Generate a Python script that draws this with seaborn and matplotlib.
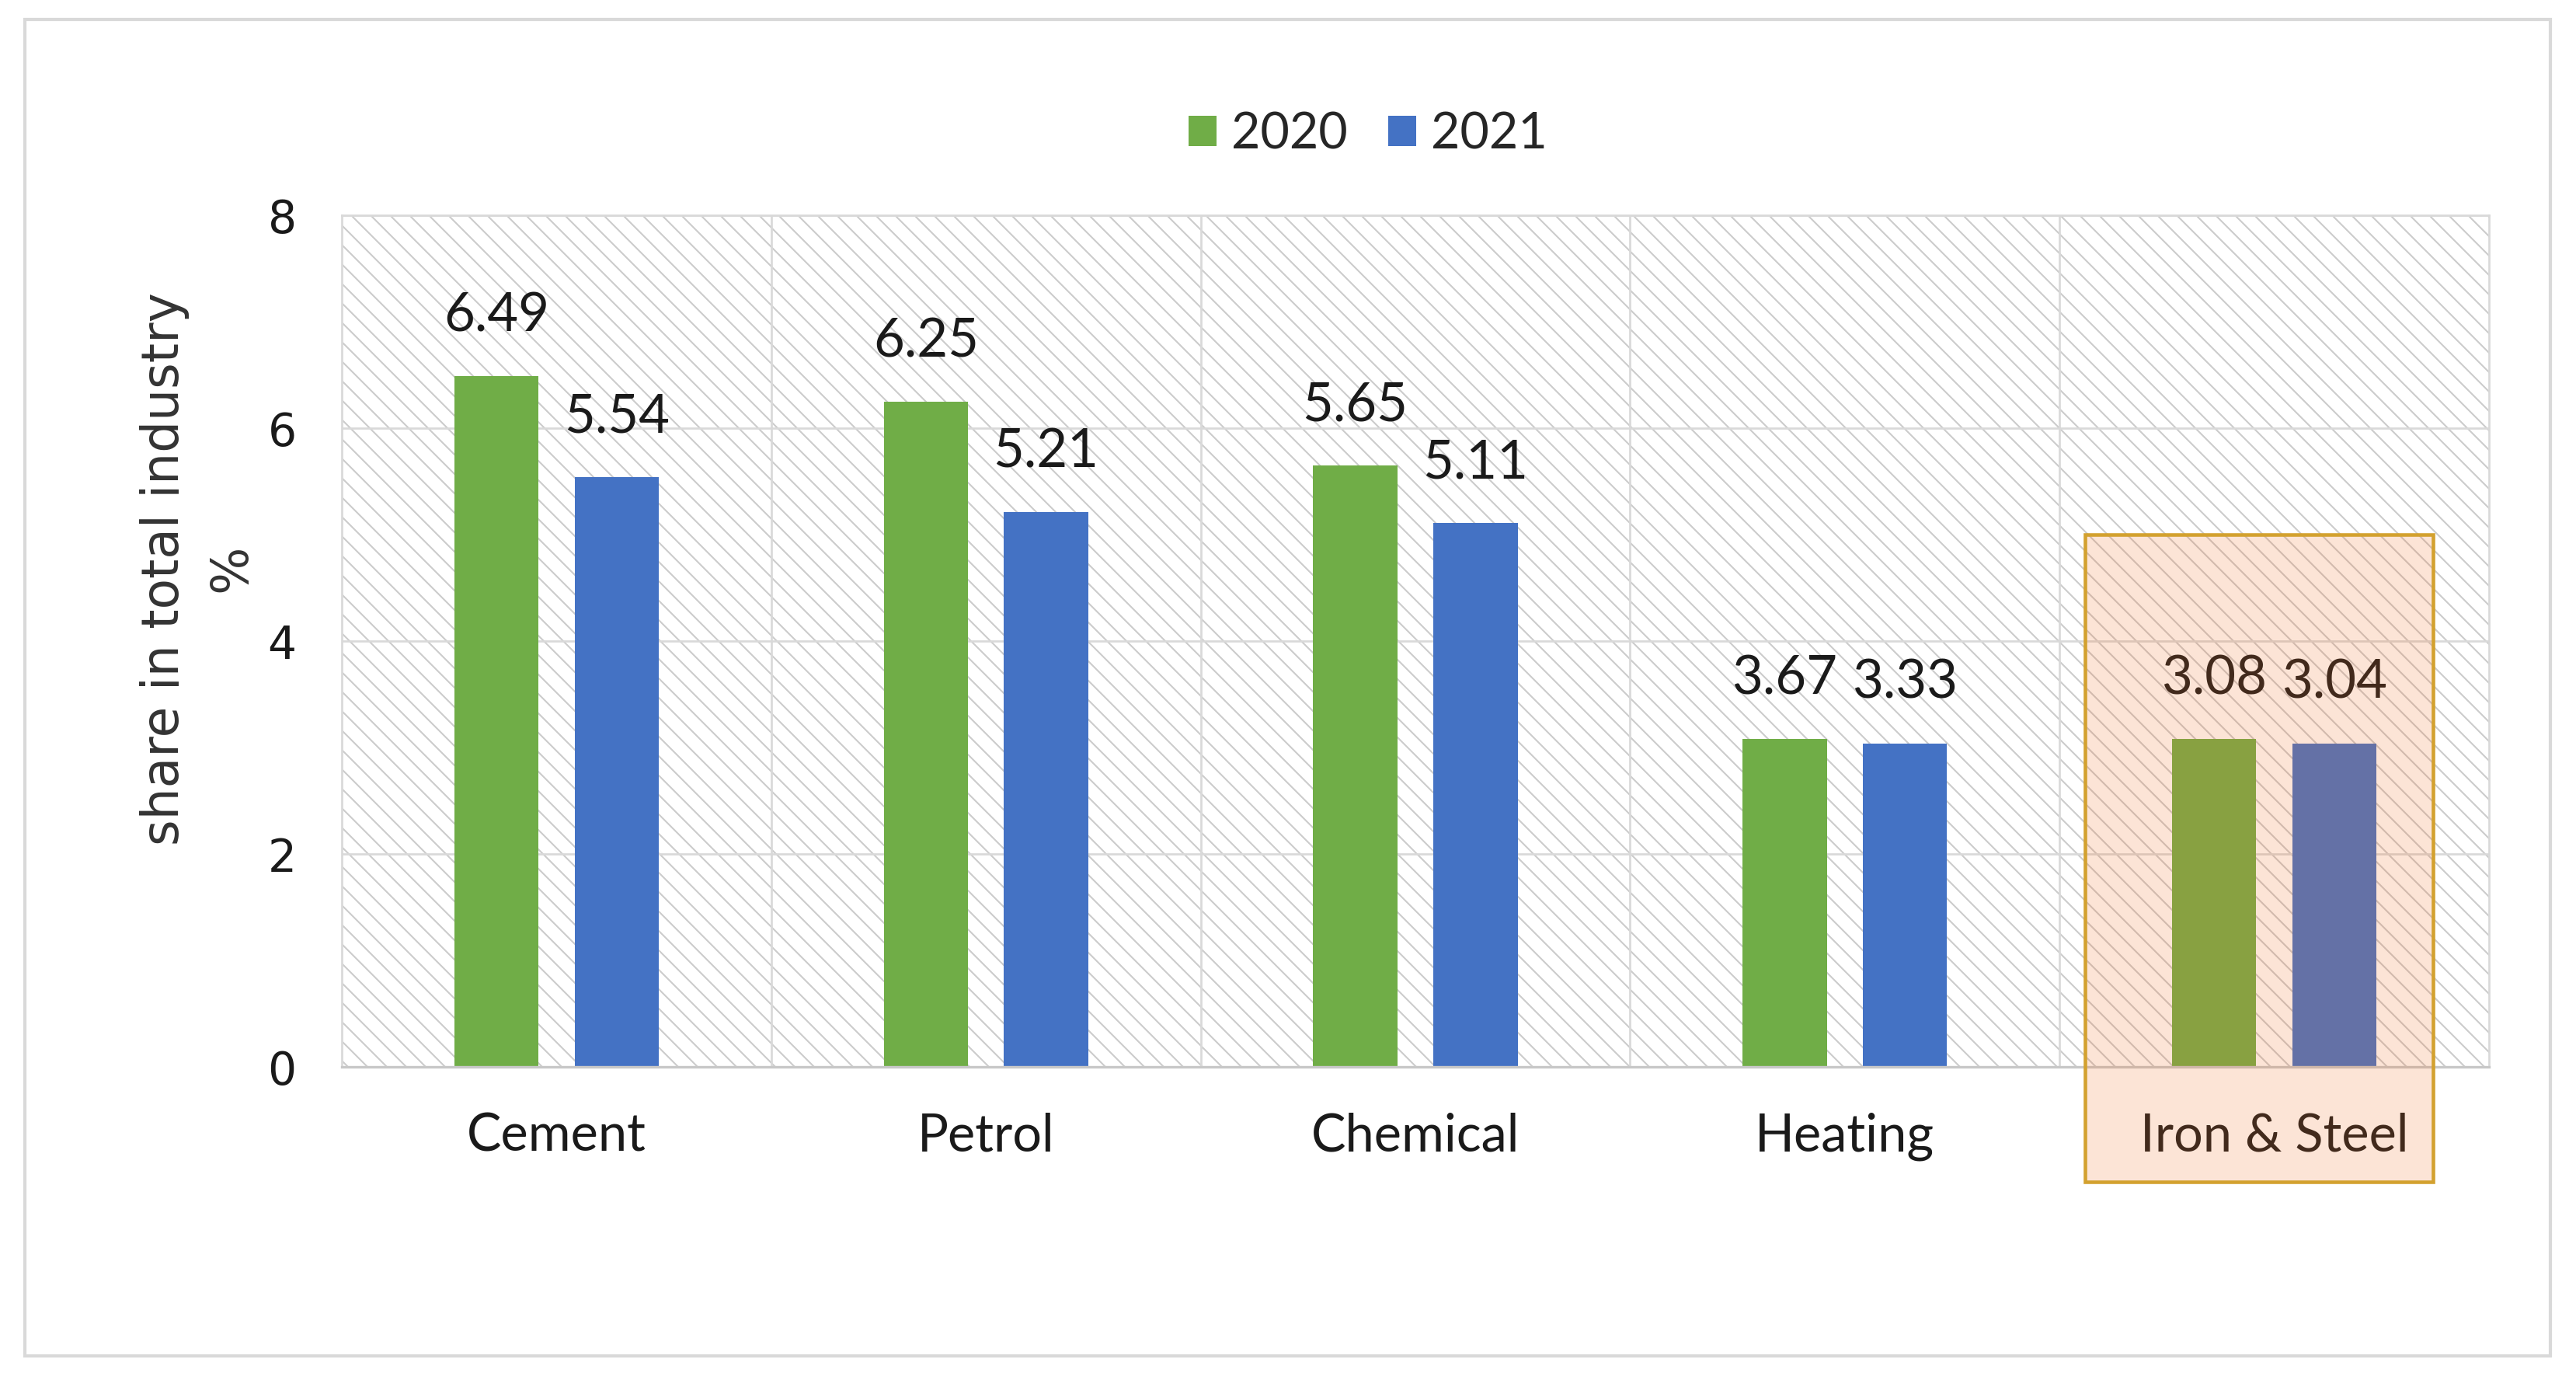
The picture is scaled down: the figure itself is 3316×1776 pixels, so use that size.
#%% packages
import pandas as pd
import seaborn as sns
import matplotlib.pyplot as plt
from matplotlib.patches import Rectangle

#%% data
sectors = ["Cement", "Petrol", "Chemical", "Heating", "Iron & Steel"]
years = ["2020", "2021"]
# bar heights as drawn in the figure
share_2020 = [6.49, 6.25, 5.65, 3.08, 3.08]
share_2021 = [5.54, 5.21, 5.11, 3.04, 3.04]
# data labels as printed
labels_2020 = ["6.49", "6.25", "5.65", "3.67", "3.08"]
labels_2021 = ["5.54", "5.21", "5.11", "3.33", "3.04"]
yticks = [0, 2, 4, 6, 8]
highlight = "Iron & Steel"

df = pd.DataFrame({
    "sector": sectors * 2,
    "year": [years[0]] * len(sectors) + [years[1]] * len(sectors),
    "share": share_2020 + share_2021,
})

#%% style
sns.set_theme(style="white")
plt.rcParams["font.family"] = ["Lato", "DejaVu Sans"]
plt.rcParams["hatch.linewidth"] = 1.0
grid_col = "#d9d9d9"

fig = plt.figure(figsize=(3316 / 150, 1776 / 150), dpi=150)
ax = fig.add_axes([0.1327, 0.2269, 0.8335, 0.6171])

# hatched plot area
ax.add_patch(Rectangle((0, 0), 1, 1, transform=ax.transAxes, facecolor="white",
                       edgecolor="#cccccc", hatch="\\\\", lw=0, zorder=0))

#%% bars
sns.barplot(data=df, x="sector", y="share", hue="year", order=sectors,
            palette=["#70AD47", "#4472C4"], saturation=1, width=0.56, gap=0.3,
            linewidth=0, ax=ax, zorder=2)

for cont, labs in zip(ax.containers, [labels_2020, labels_2021]):
    for bar, lab in zip(cont, labs):
        ax.annotate(lab, (bar.get_x() + bar.get_width() / 2, bar.get_height()),
                    xytext=(0, 37), textcoords="offset points",
                    ha="center", va="center", fontsize=33, color="#1a1a1a", zorder=3)

#%% axes
ax.set_xlim(-0.5, len(sectors) - 0.5)
ax.set_ylim(0, 8)
ax.set_yticks(yticks)
ax.set_xticks([i + 0.5 for i in range(len(sectors) - 1)], minor=True)
ax.grid(True, axis="y", color=grid_col, lw=1.3)
ax.grid(True, axis="x", which="minor", color=grid_col, lw=1.3)
ax.set_axisbelow(True)
for s in ["left", "right", "top"]:
    ax.spines[s].set_color(grid_col)
    ax.spines[s].set_linewidth(1.3)
ax.spines["bottom"].set_color("#c8c8c8")
ax.spines["bottom"].set_linewidth(1.6)
ax.tick_params(axis="both", which="both", length=0)
ax.tick_params(axis="x", pad=28, labelsize=32, labelcolor="#1a1a1a")
ax.tick_params(axis="y", pad=28, labelsize=28, labelcolor="#1a1a1a")
for t in ax.get_yticklabels():
    t.set_family("DejaVu Sans")
ax.set_xlabel("")
ax.set_ylabel("")

fig.text(0.077, 0.588, "share in total industry\n%", rotation=90, ha="center", va="center",
         multialignment="center", fontsize=31, linespacing=1.45, color="#333333",
         family="DejaVu Sans")

#%% legend
handles, lbls = ax.get_legend_handles_labels()
ax.get_legend().remove()
fig.legend(handles, lbls, loc="center", bbox_to_anchor=(0.531, 0.9025), ncol=2,
           frameon=False, fontsize=31, handlelength=0.56, handleheight=0.56,
           handletextpad=0.3, columnspacing=0.8)

#%% highlight box
i = sectors.index(highlight)
ax.add_patch(Rectangle((i - 0.44, -1.08), 0.81, 6.08, clip_on=False,
                       facecolor=(240 / 255, 113 / 255, 40 / 255, 0.19),
                       edgecolor="#D3A12F", lw=2.2, zorder=10))

# outer frame
fig.patches.append(Rectangle((0.0096, 0.0175), 0.9804, 0.9685, transform=fig.transFigure,
                             fill=False, edgecolor=grid_col, lw=2))

fig.savefig("out.png", dpi=150)
